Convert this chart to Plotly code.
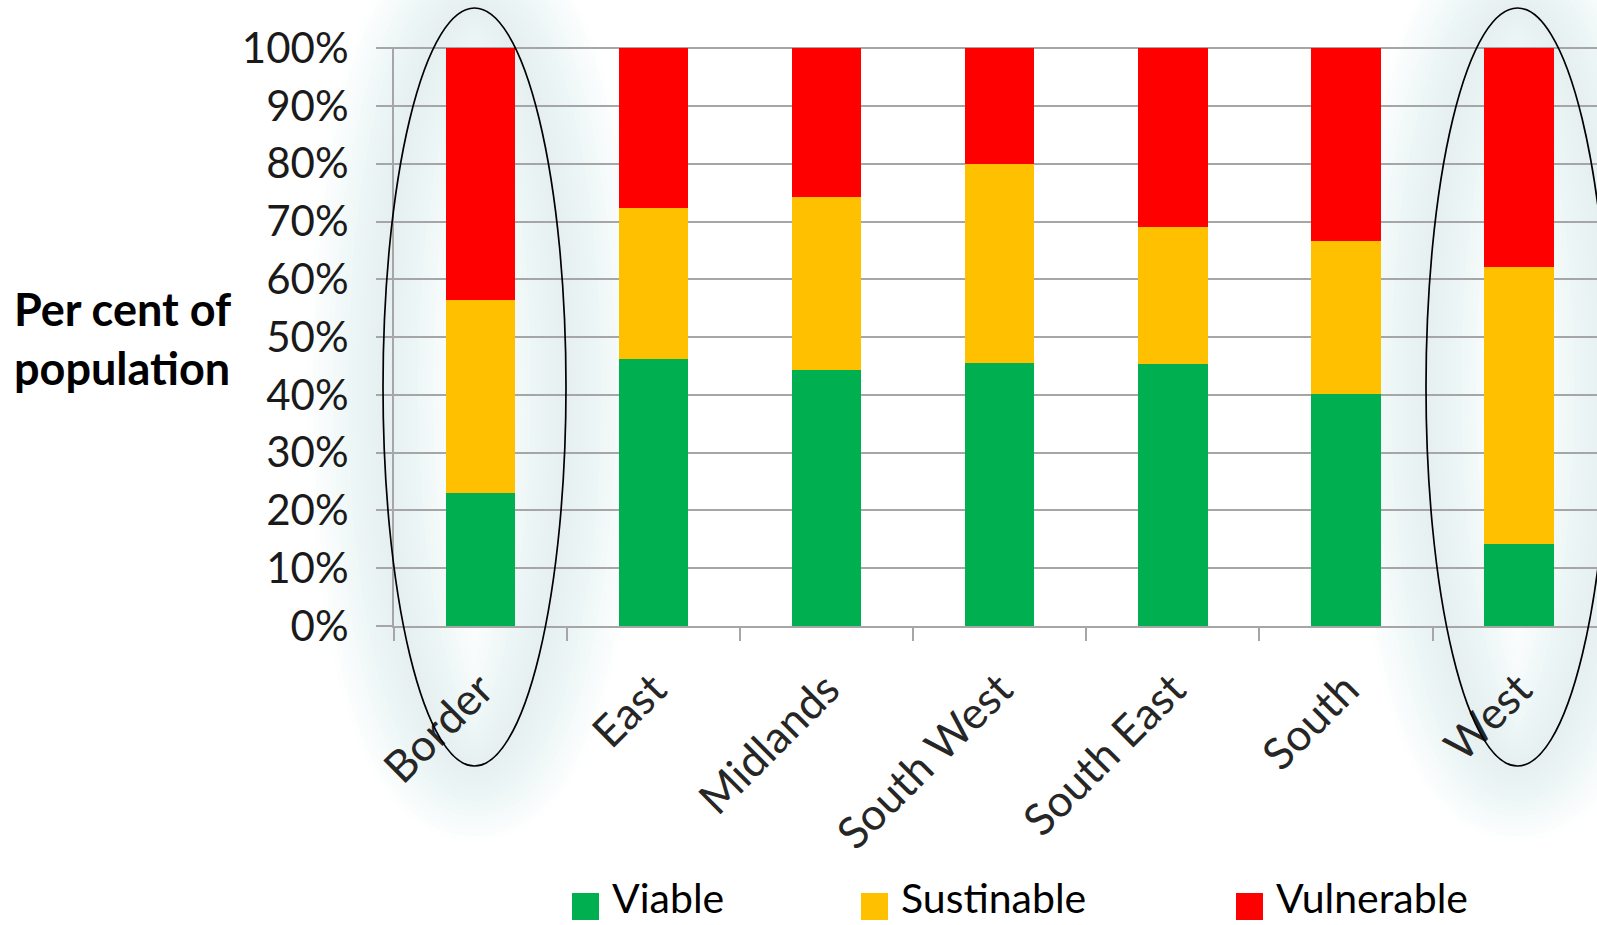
import plotly.graph_objects as go

# Regional breakdown of population by category (per cent)
regions = ["Border", "East", "Midlands", "South West", "South East", "South", "West"]
viable = [23.0, 46.2, 44.3, 45.5, 45.3, 40.2, 14.2]
sustainable = [33.5, 26.2, 30.0, 34.5, 23.8, 26.4, 48.0]
vulnerable = [43.5, 27.6, 25.7, 20.0, 30.9, 33.4, 37.8]

series_names = ["Viable", "Sustinable", "Vulnerable"]
series_values = [viable, sustainable, vulnerable]
series_colors = ["#00b050", "#ffc000", "#ff0000"]

W, H = 1597, 925
M_L, M_R, M_T, M_B = 394, 0, 47, 299
PW = W - M_L - M_R
PH = H - M_T - M_B


def px_x(px):
    return (px - M_L) / PW


def px_y(py):
    return (H - M_B - py) / PH


FONT = "Lato, 'Open Sans', sans-serif"
GRID = "#a6a6a6"

fig = go.Figure()
for name, vals, col in zip(series_names, series_values, series_colors):
    fig.add_trace(go.Bar(
        x=regions, y=vals, name=name, marker=dict(color=col, line=dict(width=0)),
        width=0.4, showlegend=False,
    ))

shapes = []
annotations = []

# soft glow bands and outlines around the highlighted regions
ellipses = [(383, 566, 8, 766), (1426, 1609, 8, 766)]
for x0, x1, y0, y1 in ellipses:
    for w in range(150, 5, -10):
        shapes.append(dict(
            type="circle", xref="paper", yref="paper", layer="below",
            x0=px_x(x0), x1=px_x(x1), y0=px_y(y0), y1=px_y(y1),
            line=dict(color="rgba(226,241,241,0.06)", width=w),
            fillcolor="rgba(0,0,0,0)",
        ))
    shapes.append(dict(
        type="circle", xref="paper", yref="paper", layer="above",
        x0=px_x(x0), x1=px_x(x1), y0=px_y(y0), y1=px_y(y1),
        line=dict(color="#000000", width=1.7),
        fillcolor="rgba(0,0,0,0)",
    ))

# legend keys along the bottom
legend_x = [572, 861, 1236]
for lx, name, col in zip(legend_x, series_names, series_colors):
    shapes.append(dict(
        type="rect", xref="paper", yref="paper",
        x0=px_x(lx), x1=px_x(lx + 27), y0=px_y(920), y1=px_y(893),
        fillcolor=col, line=dict(width=0),
    ))
    annotations.append(dict(
        text=name, xref="paper", yref="paper", x=px_x(lx + 38), y=px_y(897),
        xanchor="left", yanchor="middle", showarrow=False,
        font=dict(family=FONT, size=41, color="#000000"),
    ))

# y-axis title
for txt, py in (("Per cent of", 309), ("population", 368)):
    annotations.append(dict(
        text="<b>" + txt + "</b>", xref="paper", yref="paper",
        x=px_x(122), y=px_y(py), xanchor="center", yanchor="middle",
        showarrow=False, font=dict(family=FONT, size=45, color="#000000"),
    ))

fig.update_layout(
    width=W, height=H,
    margin=dict(l=M_L, r=M_R, t=M_T, b=M_B, pad=0),
    barmode="stack",
    paper_bgcolor="#ffffff",
    plot_bgcolor="rgba(0,0,0,0)",
    shapes=shapes,
    annotations=annotations,
    showlegend=False,
    xaxis=dict(
        range=[-0.5, 6.45], tickson="boundaries", ticks="outside", ticklen=13,
        tickcolor=GRID, tickwidth=2, showline=True, linecolor=GRID, linewidth=2,
        showgrid=False, tickangle=-45, ticklabelstandoff=18,
        tickfont=dict(family=FONT, size=44, color="#262626"),
    ),
    yaxis=dict(
        range=[0, 100.2], tickvals=[0, 10, 20, 30, 40, 50, 60, 70, 80, 90, 100],
        ticktext=[f"{v}%" for v in range(0, 101, 10)],
        ticks="outside", ticklen=16, tickcolor=GRID, tickwidth=2,
        showline=True, linecolor=GRID, linewidth=2,
        showgrid=True, gridcolor=GRID, gridwidth=2, zeroline=False,
        ticklabelstandoff=19,
        tickfont=dict(family=FONT, size=42, color="#1a1a1a"),
    ),
)

fig.write_html("out.html")
